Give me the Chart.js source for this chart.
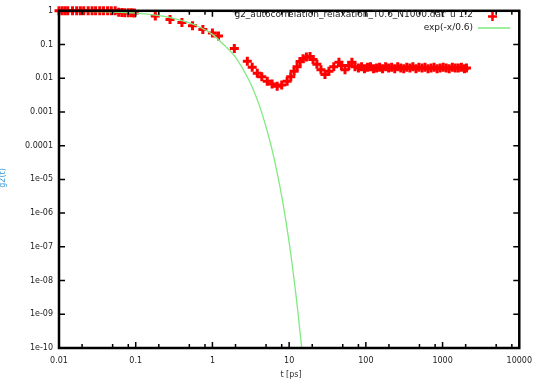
<!DOCTYPE html>
<html>
<head>
<meta charset="utf-8">
<script src="https://cdn.jsdelivr.net/npm/chart.js@4.4.0/dist/chart.umd.min.js"></script>
<style>
  html, body { margin: 0; padding: 0; background: #fff; }
  #c { display: block; }
</style>
</head>
<body>
<canvas id="c" width="540" height="386"></canvas>
<script>
// gnuplot-style log-log plot: measured autocorrelation vs. exponential fit

/* ---------- Data ---------- */
const RED_X = [
  0.01, 0.011, 0.012, 0.013, 0.015, 0.017, 0.019, 0.021, 0.024, 0.027, 0.03, 0.034, 0.038, 0.043, 0.048, 0.054,
  0.06, 0.066, 0.072, 0.08, 0.088, 0.096,
  0.18, 0.28, 0.4, 0.55, 0.75, 1.0, 1.2,
  1.93, 2.85, 3.3, 3.84, 4.4, 5.18, 6.0, 6.98, 8.0, 9.41, 10.5, 11.6, 12.7, 13.9, 15.2, 16.8, 18.7, 20.5,
  23, 26, 29.3, 33, 38.2, 44.6, 48, 53.5, 60, 65.8, 72.2,
  80, 88, 96, 105, 115, 126, 138, 151, 165, 181, 198, 217, 238, 260, 285, 312, 342, 375, 410, 450,
  492, 540, 590, 646, 708, 775, 850, 930, 1020, 1115, 1220, 1340, 1465, 1605, 1760, 1925, 2050
];
const RED_Y = [
  1, 1, 1, 1, 1, 1, 1, 1, 1, 1, 1, 1, 1, 1, 1, 1,
  0.9, 0.89, 0.88, 0.88, 0.87, 0.86,
  0.7, 0.55, 0.45, 0.36, 0.28, 0.22, 0.18,
  0.076, 0.032, 0.021, 0.0141, 0.011, 0.0081, 0.0068, 0.0058, 0.0063, 0.0081, 0.011, 0.016, 0.022, 0.0316, 0.038, 0.043, 0.044, 0.036,
  0.026, 0.018, 0.013, 0.016, 0.022, 0.03, 0.024, 0.018, 0.024, 0.03, 0.022,
  0.02, 0.022, 0.019, 0.021, 0.022, 0.019, 0.02, 0.021, 0.019, 0.022, 0.02, 0.021, 0.019, 0.022, 0.02, 0.019, 0.021, 0.02,
  0.022, 0.019, 0.021, 0.02, 0.021, 0.019, 0.02, 0.021, 0.019, 0.02, 0.021, 0.02, 0.019, 0.021, 0.02, 0.02, 0.021, 0.019, 0.02
];

const FIT_X = [0.01, 0.02, 0.05, 0.1, 0.2, 0.3, 0.5, 0.7, 1, 1.5, 2, 3, 4, 5, 6, 7, 8, 9, 10, 11, 12, 13, 14, 14.6];
const FIT_Y = [0.985, 0.968, 0.92, 0.85, 0.72, 0.61, 0.44, 0.32, 0.2, 0.085, 0.042, 0.0087, 0.0018, 3.6e-4,
  7.5e-5, 1.5e-5, 3.2e-6, 6.5e-7, 1.35e-7, 2.8e-8, 5.7e-9, 1.2e-9, 2.4e-10, 1e-10];

const X_TICKS = [0.01, 0.1, 1, 10, 100, 1000, 10000];
const X_TICK_LABELS = ['0.01', '0.1', '1', '10', '100', '1000', '10000'];
const X_MINOR_MULT = [2, 5, 8];
const Y_TICKS = [1, 0.1, 0.01, 0.001, 0.0001, 1e-5, 1e-6, 1e-7, 1e-8, 1e-9, 1e-10];
const Y_TICK_LABELS = ['1', '0.1', '0.01', '0.001', '0.0001', '1e-05', '1e-06', '1e-07', '1e-08', '1e-09', '1e-10'];

const RED_LABEL = "'g2_autocorrelation_relaxation_T0.6_N1000.dat' u 1:2";
const FIT_LABEL = 'exp(-x/0.6)';
const X_TITLE = 't [ps]';
const Y_TITLE = 'g2(t)';

const RED = '#ff0000';
const GREEN = '#80ea80';
const FAMILY = '"DejaVu Sans", sans-serif';

/* ---------- Frame, inward ticks, key, titles ---------- */
const gnuplotFrame = {
  id: 'gnuplotFrame',
  afterDatasetsDraw(chart) {
    const { ctx, chartArea: a, scales: { x, y } } = chart;
    ctx.save();
    ctx.strokeStyle = '#000';

    // inward ticks
    ctx.lineWidth = 1.5;
    ctx.beginPath();
    X_TICKS.forEach((v, i) => {
      const px = x.getPixelForValue(v);
      ctx.moveTo(px, a.bottom); ctx.lineTo(px, a.bottom - 6);
      ctx.moveTo(px, a.top); ctx.lineTo(px, a.top + 6);
      if (i < X_TICKS.length - 1) {
        X_MINOR_MULT.forEach(m => {
          const pm = x.getPixelForValue(v * m);
          ctx.moveTo(pm, a.bottom); ctx.lineTo(pm, a.bottom - 4);
          ctx.moveTo(pm, a.top); ctx.lineTo(pm, a.top + 4);
        });
      }
    });
    Y_TICKS.forEach(v => {
      const py = y.getPixelForValue(v);
      ctx.moveTo(a.left, py); ctx.lineTo(a.left + 6, py);
      ctx.moveTo(a.right, py); ctx.lineTo(a.right - 6, py);
    });
    ctx.stroke();

    // border
    ctx.lineWidth = 2.5;
    ctx.strokeRect(a.left, a.top, a.right - a.left, a.bottom - a.top);

    // key (top right, gnuplot style)
    ctx.font = '9px ' + FAMILY;
    ctx.fillStyle = '#222';
    ctx.textAlign = 'right';
    ctx.textBaseline = 'middle';
    ctx.fillText(RED_LABEL, 473, 15);
    ctx.fillText(FIT_LABEL, 473, 28);
    ctx.strokeStyle = RED; ctx.lineWidth = 2.5;
    ctx.beginPath();
    ctx.moveTo(488, 16.5); ctx.lineTo(497, 16.5);
    ctx.moveTo(492.5, 12); ctx.lineTo(492.5, 21);
    ctx.stroke();
    ctx.strokeStyle = GREEN; ctx.lineWidth = 1.5;
    ctx.beginPath(); ctx.moveTo(478, 28); ctx.lineTo(510, 28); ctx.stroke();

    // axis titles
    ctx.font = '8px ' + FAMILY;
    ctx.fillStyle = '#333';
    ctx.textAlign = 'center';
    ctx.fillText(X_TITLE, 291, 375);
    ctx.save();
    ctx.translate(3, 178);
    ctx.rotate(-Math.PI / 2);
    ctx.fillStyle = '#3a9ad9';
    ctx.fillText(Y_TITLE, 0, 0);
    ctx.restore();
    ctx.restore();
  }
};

/* ---------- Chart ---------- */
const redPts = RED_X.map((v, i) => ({ x: v, y: RED_Y[i] }));
const fitPts = FIT_X.map((v, i) => ({ x: v, y: FIT_Y[i] }));

new Chart(document.getElementById('c'), {
  type: 'scatter',
  data: {
    datasets: [
      {
        label: FIT_LABEL,
        data: fitPts,
        showLine: true,
        borderColor: GREEN,
        borderWidth: 1.3,
        pointRadius: 0,
        tension: 0.3,
        clip: 2
      },
      {
        label: RED_LABEL,
        data: redPts,
        pointStyle: 'cross',
        pointRadius: 4.5,
        borderColor: RED,
        backgroundColor: RED,
        borderWidth: 3,
        clip: false
      }
    ]
  },
  options: {
    responsive: false,
    animation: false,
    layout: { padding: { top: 9, right: 20, left: 0, bottom: 0 } },
    plugins: { legend: { display: false }, tooltip: { enabled: false } },
    scales: {
      x: {
        type: 'logarithmic',
        min: 0.01, max: 10000,
        grid: { display: false, drawTicks: false },
        border: { display: false },
        afterBuildTicks: (s) => { s.ticks = X_TICKS.map(v => ({ value: v })); },
        afterFit: (s) => { s.height = 38; },
        ticks: {
          autoSkip: false, maxRotation: 0, padding: 8,
          color: '#222', font: { size: 8, family: FAMILY },
          callback: (v) => X_TICK_LABELS[X_TICKS.indexOf(v)] ?? ''
        }
      },
      y: {
        type: 'logarithmic',
        min: 1e-10, max: 1,
        grid: { display: false, drawTicks: false },
        border: { display: false },
        afterBuildTicks: (s) => { s.ticks = Y_TICKS.map(v => ({ value: v })); },
        afterFit: (s) => { s.width = 59; },
        ticks: {
          autoSkip: false, padding: 6,
          color: '#222', font: { size: 8, family: FAMILY },
          callback: (v) => Y_TICK_LABELS[Y_TICKS.indexOf(v)] ?? ''
        }
      }
    }
  },
  plugins: [gnuplotFrame]
});
</script>
</body>
</html>
